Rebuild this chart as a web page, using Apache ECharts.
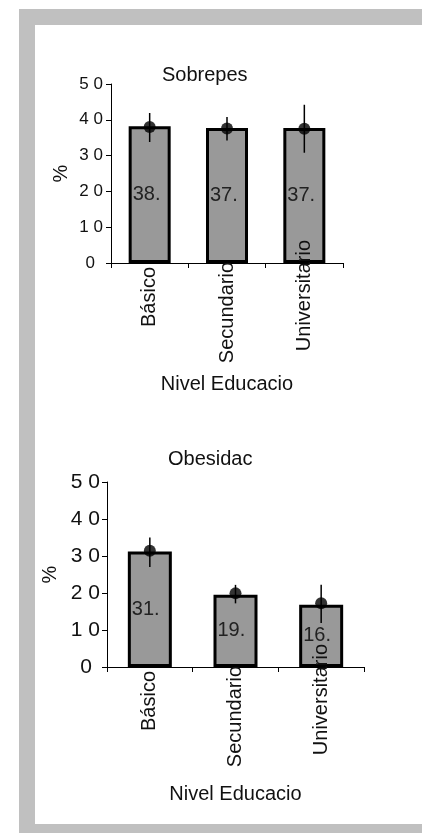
<!DOCTYPE html>
<html>
<head>
<meta charset="utf-8">
<script src="https://cdn.jsdelivr.net/npm/echarts@6/dist/echarts.min.js"></script>
<style>
    html, body { margin: 0; padding: 0; background: #fff; }
    #wrap { position: relative; width: 422px; height: 833px; overflow: hidden; }
    #frame { position: absolute; left: 19px; top: 9px; right: 0; bottom: 0; background: #c0c0c0; }
    #inner { position: absolute; left: 35px; top: 25px; right: 0; bottom: 9px; background: #fff; }
    #chart { position: absolute; left: 0; top: 0; width: 422px; height: 833px; }
</style>
</head>
<body>
<div id="wrap">
    <div id="frame"></div>
    <div id="inner"></div>
    <div id="chart"></div>
</div>
<script>
// 数据
var categories = ['Básico', 'Secundario', 'Universitario'];

var sobrepesoBars = [38.2, 37.7, 37.7];
var sobrepesoPoints = [38.0, 37.6, 37.5];
var sobrepesoLow = [33.8, 34.2, 30.8];
var sobrepesoHigh = [41.9, 40.8, 44.2];

var obesidadBars = [31.2, 19.5, 16.8];
var obesidadPoints = [31.4, 19.9, 17.2];
var obesidadLow = [27.0, 17.2, 11.9];
var obesidadHigh = [35.0, 22.2, 22.2];

var FONT = 'Liberation Sans, Arial, sans-serif';

// 类目标签的偏移 (rich 占位)
var labelShift = {'Básico': 's0', 'Secundario': 's1', 'Universitario': ''};

function catLabel(v) {
    var key = labelShift[v];
    return key ? v + '{' + key + '| }' : v;
}

function tickLabel(v) {
    if (v === 0) {
        return '{z|0}';
    }
    return String(v).split('').join(' ');
}

function xAxisOf(grid, nameGap) {
    return {
        type: 'category',
        gridIndex: grid,
        data: categories,
        z: 3,
        name: 'Nivel Educacio',
        nameLocation: 'middle',
        nameGap: nameGap,
        nameMoveOverlap: false,
        nameTextStyle: {fontSize: 20, color: '#111', fontFamily: FONT},
        axisLine: {lineStyle: {color: '#000', width: 1}},
        axisTick: {show: true, length: 5, lineStyle: {color: '#000'}},
        axisLabel: {
            rotate: 90,
            interval: 0,
            margin: -23,
            fontSize: 20,
            color: '#111',
            fontFamily: FONT,
            formatter: catLabel,
            rich: {
                s0: {width: 27, fontSize: 20},
                s1: {width: 22, fontSize: 20}
            }
        },
        splitLine: {show: false}
    };
}

function yAxisOf(grid, nameGap, fontSize, margin) {
    return {
        type: 'value',
        gridIndex: grid,
        min: 0,
        max: 50,
        interval: 10,
        name: '%',
        nameLocation: 'middle',
        nameGap: nameGap,
        nameMoveOverlap: false,
        nameTextStyle: {fontSize: 20, color: '#111', fontFamily: FONT},
        axisLine: {show: true, lineStyle: {color: '#000', width: 1}},
        axisTick: {show: true, length: 5, lineStyle: {color: '#000'}},
        axisLabel: {
            fontSize: fontSize,
            color: '#111',
            fontFamily: FONT,
            margin: margin,
            formatter: tickLabel,
            rich: {
                z: {fontSize: fontSize, fontFamily: FONT, color: '#111', padding: [0, 8, 0, 0]}
            }
        },
        splitLine: {show: false}
    };
}

function barSeries(idx, values, width) {
    return {
        type: 'bar',
        xAxisIndex: idx,
        yAxisIndex: idx,
        data: values,
        barWidth: width,
        z: 2,
        itemStyle: {color: '#999999', borderColor: '#000', borderWidth: 3},
        label: {
            show: true,
            position: 'insideLeft',
            distance: 4,
            fontSize: 20,
            color: '#222',
            fontFamily: FONT,
            width: 36,
            overflow: 'truncate',
            ellipsis: '',
            formatter: function (p) {
                return p.value.toFixed(1);
            }
        },
        emphasis: {disabled: true}
    };
}

function errorSeries(idx, lows, highs) {
    return {
        type: 'custom',
        xAxisIndex: idx,
        yAxisIndex: idx,
        z: 4,
        encode: {x: 0, y: [1, 2]},
        data: categories.map(function (c, i) {
            return [i, lows[i], highs[i]];
        }),
        renderItem: function (params, api) {
            var hi = api.coord([api.value(0), api.value(2)]);
            var lo = api.coord([api.value(0), api.value(1)]);
            return {
                type: 'line',
                shape: {x1: hi[0], y1: hi[1], x2: lo[0], y2: lo[1]},
                style: {stroke: '#000', lineWidth: 1.5}
            };
        }
    };
}

function pointSeries(idx, values) {
    return {
        type: 'scatter',
        xAxisIndex: idx,
        yAxisIndex: idx,
        z: 5,
        data: values,
        symbol: 'circle',
        symbolSize: 12,
        itemStyle: {color: '#000'},
        emphasis: {disabled: true}
    };
}

var chart = echarts.init(document.getElementById('chart'), null, {renderer: 'canvas'});

chart.setOption({
    animation: false,
    backgroundColor: 'transparent',
    title: [
        {text: 'Sobrepes', left: 162, top: 65, padding: 0,
            textStyle: {fontSize: 20, fontWeight: 'normal', color: '#111', fontFamily: FONT}},
        {text: 'Obesidac', left: 168, top: 449, padding: 0,
            textStyle: {fontSize: 20, fontWeight: 'normal', color: '#111', fontFamily: FONT}}
    ],
    grid: [
        {left: 111, width: 232, top: 84, height: 179},
        {left: 107, width: 257, top: 482, height: 185}
    ],
    xAxis: [xAxisOf(0, 111), xAxisOf(1, 117)],
    yAxis: [yAxisOf(0, 40, 17, 8), yAxisOf(1, 47, 21, 7)],
    series: [
        barSeries(0, sobrepesoBars, 42),
        errorSeries(0, sobrepesoLow, sobrepesoHigh),
        pointSeries(0, sobrepesoPoints),
        barSeries(1, obesidadBars, 44),
        errorSeries(1, obesidadLow, obesidadHigh),
        pointSeries(1, obesidadPoints)
    ]
});
</script>
</body>
</html>
